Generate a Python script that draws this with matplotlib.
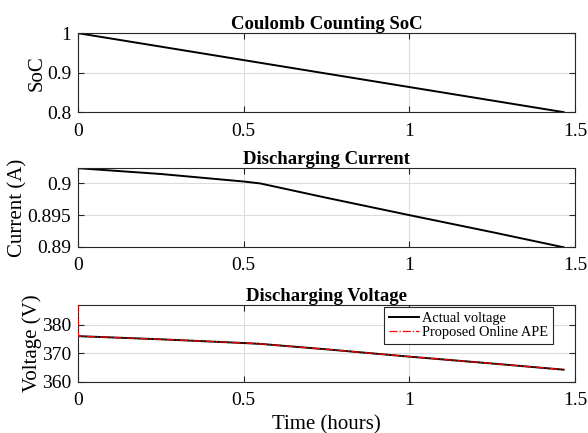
import matplotlib
matplotlib.use("Agg")
import matplotlib.pyplot as plt
import numpy as np

plt.rcParams['font.family'] = ['Liberation Serif', 'DejaVu Serif']
plt.rcParams['mathtext.fontset'] = 'stix'

# Data
t_soc = [0.0, 1.466]
soc = [1.0, 0.8]

t_cur = [0.0, 0.25, 0.5, 0.55, 0.75, 1.0, 1.25, 1.466]
cur = [0.90236, 0.90145, 0.90027, 0.89997, 0.89772, 0.8950, 0.89233, 0.88995]

t_v = [0.0, 0.25, 0.5, 0.55, 0.75, 1.0, 1.25, 1.466]
v_act = [376.0, 374.9, 373.6, 373.3, 371.4, 368.85, 366.45, 364.3]
t_est = [0.0, 0.001] + t_v[1:]
v_est = [386.9, 376.0] + v_act[1:]

xticks = [0, 0.5, 1, 1.5]
xticklabels = ['0', '0.5', '1', '1.5']

fig = plt.figure(figsize=(5.88, 4.33), dpi=100)
L, W = 0.1327, 0.845
ax1 = fig.add_axes([L, 0.741, W, 0.1824])
ax2 = fig.add_axes([L, 0.4296, W, 0.1824])
ax3 = fig.add_axes([L, 0.1178, W, 0.178])

for ax in (ax1, ax2, ax3):
    ax.set_xlim(0, 1.5)
    ax.set_xticks(xticks)
    ax.set_xticklabels(xticklabels)
    ax.grid(True, color='#dcdcdc', linewidth=0.8)
    ax.set_axisbelow(True)
    ax.tick_params(direction='in', top=True, right=True, labelsize=14,
                   length=4, color='#262626', width=0.8, pad=5)
    ax.tick_params(axis='x', pad=7.5)
    for s in ax.spines.values():
        s.set_color('#262626')
        s.set_linewidth(0.8)

ax1.plot(t_soc, soc, color='black', linewidth=1.4)
ax1.set_ylim(0.8, 1.0)
ax1.set_yticks([0.8, 0.9, 1.0])
ax1.set_yticklabels(['0.8', '0.9', '1'])
ax1.set_ylabel('SoC', fontsize=15, labelpad=0)
ax1.set_title('Coulomb Counting SoC', fontsize=13.5, fontweight='bold', pad=3)

ax2.plot(t_cur, cur, color='black', linewidth=1.4)
ax2.set_ylim(0.89, 0.90239)
ax2.set_yticks([0.89, 0.895, 0.9])
ax2.set_yticklabels(['0.89', '0.895', '0.9'])
ax2.set_ylabel('Current (A)', fontsize=15, labelpad=0)
ax2.set_title('Discharging Current', fontsize=13.5, fontweight='bold', pad=3)

ax3.plot(t_v, v_act, color='black', linewidth=1.4, label='Actual voltage')
ax3.plot(t_est, v_est, color='red', linewidth=0.9, linestyle='-.',
         label='Proposed Online APE', zorder=3)
ax3.set_ylim(360, 386.9)
ax3.set_yticks([360, 370, 380])
ax3.set_yticklabels(['360', '370', '380'])
ax3.set_ylabel('Voltage (V)', fontsize=15, labelpad=0)
ax3.set_xlabel('Time (hours)', fontsize=15, labelpad=4)
ax3.set_title('Discharging Voltage', fontsize=13.5, fontweight='bold', pad=3)
leg = ax3.legend(loc='upper right', bbox_to_anchor=(0.9557, 0.978),
                 fontsize=10.4, frameon=True, fancybox=False,
                 edgecolor='#262626', framealpha=1, borderpad=0.35, labelspacing=0.05,
                 handlelength=2.1, handletextpad=0.2, borderaxespad=0.0)
leg.get_frame().set_linewidth(0.8)

fig.savefig('out.png', dpi=100)
